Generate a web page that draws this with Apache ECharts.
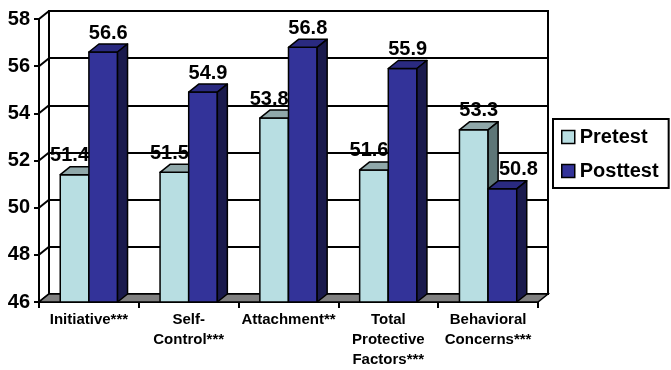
<!DOCTYPE html>
<html><head><meta charset="utf-8">
<script src="https://cdn.jsdelivr.net/npm/echarts@6/dist/echarts.min.js"></script>
<style>html,body{margin:0;padding:0;background:#fff}#c{width:671px;height:370px}</style>
</head><body><div id="c"></div>
<script>
const categories = ['Initiative***', 'Self-\nControl***', 'Attachment**', 'Total\nProtective\nFactors***', 'Behavioral\nConcerns***'];
const pretest = [51.4, 51.5, 53.8, 51.6, 53.3];
const posttest = [56.6, 54.9, 56.8, 55.9, 50.8];
const yTicks = [46, 48, 50, 52, 54, 56, 58];
const seriesNames = ['Pretest', 'Posttest'];

const values = [pretest, posttest];
const DX = 10, DY = -8;
const FONT = '"Liberation Sans", Arial, sans-serif';
const styles = [
  {front: '#B8DEE2', top: '#90A8AA', side: '#5E7677'},
  {front: '#333399', top: '#2A2A80', side: '#1A1A4D'}
];
const yMin = yTicks[0], yMax = yTicks[yTicks.length - 1], yStep = yTicks[1] - yTicks[0];

function barGeom(api, s) {
  const i = api.value(0), v = api.value(1);
  const base = api.coord([i, yMin]);
  const top = api.coord([i, v]);
  const cw = api.size([1, 0])[0];
  const bw = cw * 0.287;
  const x1 = s === 0 ? base[0] - bw : base[0];
  return {x1: x1, x2: x1 + bw, yb: base[1], yt: top[1]};
}
function barRender(s) {
  return function (params, api) {
    const g = barGeom(api, s);
    const st = styles[s];
    const ln = {stroke: '#000', lineWidth: 1.5, lineJoin: 'round'};
    return {type: 'group', children: [
      {type: 'polygon', shape: {points: [[g.x1, g.yb], [g.x2, g.yb], [g.x2, g.yt], [g.x1, g.yt]]}, style: Object.assign({fill: st.front}, ln)},
      {type: 'polygon', shape: {points: [[g.x1, g.yt], [g.x2, g.yt], [g.x2 + DX, g.yt + DY], [g.x1 + DX, g.yt + DY]]}, style: Object.assign({fill: st.top}, ln)},
      {type: 'polygon', shape: {points: [[g.x2, g.yb], [g.x2 + DX, g.yb + DY], [g.x2 + DX, g.yt + DY], [g.x2, g.yt]]}, style: Object.assign({fill: st.side}, ln)}
    ]};
  };
}
function labelRender(s) {
  return function (params, api) {
    const g = barGeom(api, s);
    const i = api.value(0), v = api.value(1);
    const other = values[1 - s][i];
    let shift = 0;
    if (v < other) shift = s === 0 ? -10 : 11;
    return {type: 'text', style: {
      text: v.toFixed(1), x: (g.x1 + g.x2) / 2 + DX / 2 + shift, y: g.yt + DY - 1,
      align: 'center', verticalAlign: 'bottom', font: 'bold 20px ' + FONT, fill: '#000'
    }};
  };
}
function decorRender(params, api) {
  const cs = params.coordSys;
  const children = [];
  yTicks.forEach(function (t) {
    const p = api.coord([0, t]);
    children.push({type: 'line', shape: {x1: cs.x, y1: p[1], x2: cs.x + DX, y2: p[1] + DY}, style: {stroke: '#000', lineWidth: 2}});
  });
  const yb = cs.y + cs.height;
  children.push({type: 'polygon', shape: {points: [[cs.x, yb], [cs.x + cs.width, yb], [cs.x + cs.width + DX, yb + DY], [cs.x + DX, yb + DY]]},
    style: {fill: '#808080', stroke: '#000', lineWidth: 1.5}});
  return {type: 'group', children: children};
}

const chart = echarts.init(document.getElementById('c'), null, {renderer: 'canvas'});
const series = [
  {type: 'custom', name: 'decor', xAxisIndex: 0, yAxisIndex: 0, silent: true, z: 1, clip: false, data: [[0, yMin]], renderItem: decorRender},
  {type: 'custom', name: seriesNames[0] + ' labels', xAxisIndex: 0, yAxisIndex: 0, silent: true, z: 2, clip: false,
    data: pretest.map(function (v, i) { return [i, v]; }), renderItem: labelRender(0)},
  {type: 'custom', name: seriesNames[1] + ' labels', xAxisIndex: 0, yAxisIndex: 0, silent: true, z: 2, clip: false,
    data: posttest.map(function (v, i) { return [i, v]; }), renderItem: labelRender(1)},
  {type: 'custom', name: seriesNames[0], xAxisIndex: 0, yAxisIndex: 0, z: 3, clip: false,
    itemStyle: {color: styles[0].front, borderColor: '#000', borderWidth: 1.5},
    data: pretest.map(function (v, i) { return [i, v]; }), renderItem: barRender(0)},
  {type: 'custom', name: seriesNames[1], xAxisIndex: 0, yAxisIndex: 0, z: 3, clip: false,
    itemStyle: {color: styles[1].front, borderColor: '#000', borderWidth: 1.5},
    data: posttest.map(function (v, i) { return [i, v]; }), renderItem: barRender(1)}
];

chart.setOption({
  animation: false,
  backgroundColor: '#fff',
  grid: [
    {left: 39, top: 19, width: 499, height: 283, containLabel: false, outerBoundsMode: 'none'},
    {left: 39 + DX, top: 19 + DY, width: 499, height: 283, containLabel: false, outerBoundsMode: 'none',
      show: true, borderColor: '#000', borderWidth: 2, backgroundColor: '#fff', z: -1}
  ],
  xAxis: [
    {type: 'category', gridIndex: 0, data: categories,
      axisLine: {lineStyle: {color: '#000', width: 2}},
      axisTick: {show: true, length: 6, lineStyle: {color: '#000', width: 2}},
      axisLabel: {interval: 0, margin: 8, color: '#000', fontFamily: FONT, fontWeight: 'bold', fontSize: 15, lineHeight: 20},
      splitLine: {show: false}},
    {type: 'category', gridIndex: 1, data: categories, show: false}
  ],
  yAxis: [
    {type: 'value', gridIndex: 0, min: yMin, max: yMax, interval: yStep,
      axisLine: {show: true, lineStyle: {color: '#000', width: 2}},
      axisTick: {show: true, length: 5, lineStyle: {color: '#000', width: 2}},
      axisLabel: {margin: 9, color: '#000', fontFamily: FONT, fontWeight: 'bold', fontSize: 20},
      splitLine: {show: false}},
    {type: 'value', gridIndex: 1, min: yMin, max: yMax, interval: yStep,
      axisLine: {show: false}, axisTick: {show: false}, axisLabel: {show: false},
      splitLine: {show: true, lineStyle: {color: '#000', width: 2}}}
  ],
  legend: {
    left: 553, top: 119, orient: 'vertical', icon: 'rect',
    itemWidth: 13, itemHeight: 13, itemGap: 14,
    padding: [8, 10, 7, 8], borderColor: '#000', borderWidth: 2, backgroundColor: '#fff',
    textStyle: {color: '#000', fontFamily: FONT, fontWeight: 'bold', fontSize: 20, lineHeight: 20},
    data: [
      {name: seriesNames[0], itemStyle: {color: styles[0].front, borderColor: '#000', borderWidth: 1.5}},
      {name: seriesNames[1], itemStyle: {color: styles[1].front, borderColor: '#000', borderWidth: 1.5}}
    ]
  },
  series: series
});
</script>
</body></html>
